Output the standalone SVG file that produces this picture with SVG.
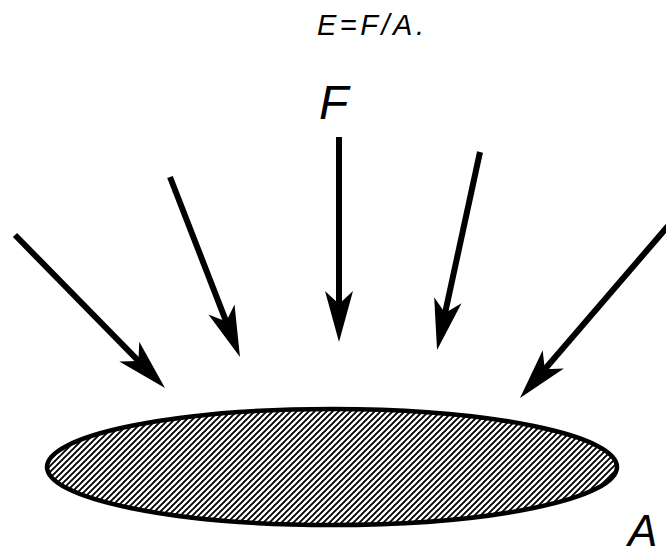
<svg xmlns="http://www.w3.org/2000/svg" width="666" height="555" viewBox="0 0 666 555">
<style>
.lbl{font-family:"Liberation Sans",Arial,sans-serif;font-style:italic;fill:#000}
.arrow{stroke:#000;stroke-width:6;fill:none;marker-end:url(#head)}
</style>
<defs>
<marker id="head" markerUnits="userSpaceOnUse" orient="auto" refX="0" refY="0" markerWidth="60" markerHeight="40" overflow="visible">
<path d="M38,0 L-13,-14 L0,0 L-13,14 Z" fill="#000"/>
</marker>
<pattern id="hatch" patternUnits="userSpaceOnUse" width="6" height="6">
<rect width="6" height="6" fill="#fff"/>
<path d="M-1,7 L7,-1 M-4,4 L4,-4 M2,10 L10,2" stroke="#000" stroke-width="1.9"/>
</pattern>
</defs>
<rect width="666" height="555" fill="#fff"/>
<text class="lbl" x="317" y="35" font-size="29" textLength="107" lengthAdjust="spacing">E=F/A.</text>
<g id="surface">
<ellipse cx="332" cy="467" rx="285" ry="58" fill="url(#hatch)" stroke="#000" stroke-width="4.5"/>
<text class="lbl" x="628" y="546" font-size="44">A</text>
</g>
<g id="force">
<text class="lbl" x="319" y="119" font-size="48">F</text>
</g>
<g id="connectors">
<line class="arrow" x1="15" y1="235" x2="138.4" y2="360.9"/>
<line class="arrow" x1="170" y1="177" x2="226.2" y2="321.6"/>
<line class="arrow" x1="339" y1="137" x2="339" y2="304"/>
<line class="arrow" x1="480" y1="152" x2="445.1" y2="312.9"/>
<line class="arrow" x1="668" y1="226" x2="544.8" y2="369.2"/>
</g>
</svg>
